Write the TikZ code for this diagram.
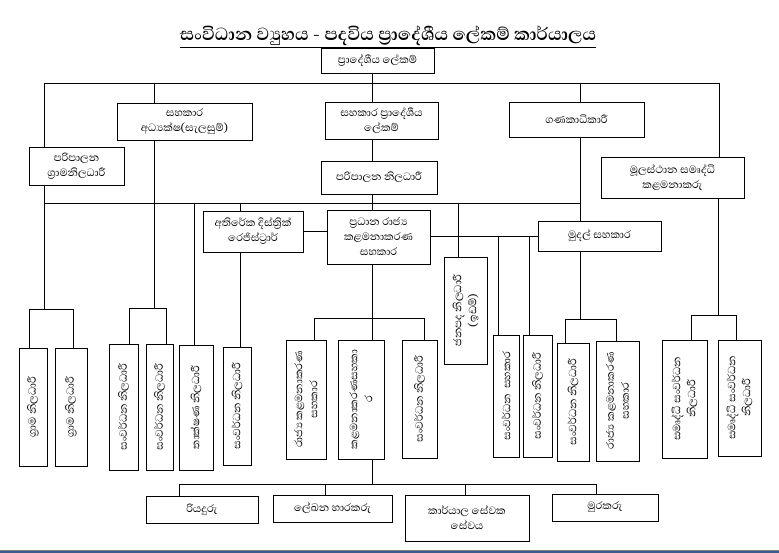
\documentclass[tikz,border=0pt]{standalone}
\usepackage{fontspec}
\setmainfont[Script=Sinhala]{Abhaya Libre}
\definecolor{barblue}{RGB}{62,92,138}
\begin{document}
\begin{tikzpicture}[x=1pt,y=-1pt,
  bx/.style={draw,line width=0.8pt,inner sep=1pt,align=center,font=\fontsize{13.5}{15}\selectfont},
  vtext/.style={rotate=90,align=center,inner sep=0pt,font=\fontsize{13.5}{15}\selectfont},
  ln/.style={line width=0.8pt}]
\useasboundingbox (0,0) rectangle (779,553);
\fill[white] (0,0) rectangle (779,553);
% title
\node[font=\fontsize{22.5}{26}\selectfont\bfseries] (title) at (388,37) {\underline{සංවිධාන ව්‍යුහය - පදවිය ප්‍රාදේශීය ලේකම් කාර්යාලය}};
% horizontal boxes
\node[bx,minimum width=113pt,minimum height=25pt] (top) at (377.5,60.5) {ප්‍රාදේශීය ලේකම්};
\node[bx,minimum width=135pt,minimum height=37pt] (adh) at (184.5,121.5) {සහකාර\\අධ්‍යක්ෂ(සැලසුම්)};
\node[bx,minimum width=113pt,minimum height=37pt] (spl) at (381.5,120.5) {සහකාර ප්‍රාදේශීය\\ලේකම්};
\node[bx,minimum width=135pt,minimum height=35pt] (gan) at (576.5,119.5) {ගණකාධිකාරී};
\node[bx,minimum width=95pt,minimum height=38pt] (pgn) at (76.5,166) {පරිපාලන\\ග්‍රාමනිලධාරී};
\node[bx,minimum width=116pt,minimum height=33pt] (pn) at (379,177.5) {පරිපාලන නිලධාරී};
\node[bx,minimum width=143pt,minimum height=41pt] (msk) at (672.5,177.5) {මූලස්ථාන සමෘද්ධි\\කළමනාකරු};
\node[bx,minimum width=100pt,minimum height=41pt] (atr) at (253,231.5) {අතිරේක දිස්ත්‍රික්\\රෙජිස්ට්‍රාර්};
\node[bx,minimum width=103pt,minimum height=54pt] (prs) at (378.5,237) {ප්‍රධාන රාජ්‍ය\\කළමනාකරණ\\සහකාර};
\node[bx,minimum width=123pt,minimum height=30pt] (mud) at (599.5,236) {මුදල් සහකාර};
% vertical boxes
\node[bx,minimum width=43pt,minimum height=107pt,label={[vtext]center:ජනපද නිලධාරී\\(ඉඩම්)}] (jan) at (465.5,310.5) {};
\node[bx,minimum width=28pt,minimum height=118pt,label={[vtext]center:ග්‍රාම නිලධාරී}] (gn1) at (33,407) {};
\node[bx,minimum width=32pt,minimum height=118pt,label={[vtext]center:ග්‍රාම නිලධාරී}] (gn2) at (71,407) {};
\node[bx,minimum width=29pt,minimum height=126pt,label={[vtext]center:සංවර්ධන නිලධාරී}] (sv1) at (123.5,407) {};
\node[bx,minimum width=27pt,minimum height=126pt,label={[vtext]center:සංවර්ධන නිලධාරී}] (sv2) at (159.5,407) {};
\node[bx,minimum width=34pt,minimum height=125pt,label={[vtext]center:තාක්ෂණ නිලධාරී}] (tk) at (196,407.5) {};
\node[bx,minimum width=28pt,minimum height=118pt,label={[vtext]center:සංවර්ධන නිලධාරී}] (sv3) at (237,406) {};
\node[bx,minimum width=40pt,minimum height=119pt,label={[vtext]center:රාජ්‍ය කළමනාකරණ\\සහකාර}] (rk1) at (306,399.5) {};
\node[bx,minimum width=46pt,minimum height=119pt,label={[vtext]center:කළමනාකරණසහකා\\ර}] (ks) at (361,399.5) {};
\node[bx,minimum width=35pt,minimum height=118pt,label={[vtext]center:සංවර්ධන නිලධාරී}] (sv4) at (419.5,399) {};
\node[bx,minimum width=26pt,minimum height=122pt,label={[vtext]center:සංවර්ධන\ \ සහකාර}] (ss) at (506,396) {};
\node[bx,minimum width=29pt,minimum height=122pt,label={[vtext]center:සංවර්ධන නිලධාරී}] (sv5) at (537.5,396) {};
\node[bx,minimum width=32pt,minimum height=118pt,label={[vtext]center:සංවර්ධන නිලධාරී}] (sv6) at (573,402) {};
\node[bx,minimum width=43pt,minimum height=120pt,label={[vtext]center:රාජ්‍ය කළමනාකරණ\\සහකාර}] (rk2) at (617.5,401) {};
\node[bx,minimum width=45pt,minimum height=118pt,label={[vtext]center:සමෘද්ධි සංවර්ධන\\නිලධාරී}] (sm1) at (684.5,399) {};
\node[bx,minimum width=43pt,minimum height=116pt,label={[vtext]center:සමෘද්ධි සංවර්ධන\\නිලධාරී}] (sm2) at (739.5,398) {};
% bottom boxes
\node[bx,minimum width=112pt,minimum height=27pt] (riy) at (202,509.5) {රියදුරු};
\node[bx,minimum width=119pt,minimum height=27pt] (lek) at (332.5,508.5) {ලේඛන හාරකරු};
\node[bx,minimum width=124pt,minimum height=46pt] (kar) at (467,518) {කාර්යාල සේවක\\සේවය};
\node[bx,minimum width=106pt,minimum height=27pt] (mur) at (605,507.5) {මුරකරු};
% bus 1
\coordinate (A1) at (44,83); \coordinate (A2) at (154,83); \coordinate (A3) at (372,83);
\coordinate (A4) at (580,83); \coordinate (A5) at (719,83);
\draw[ln] (A1) -- (A5);
\draw[ln] (top.south -| A3) -- (A3);
\draw[ln] (A1) -- (pgn.north -| A1);
\draw[ln] (A2) -- (adh.north -| A2);
\draw[ln] (A3) -- (spl.north -| A3);
\draw[ln] (A4) -- (gan.north -| A4);
\draw[ln] (A5) -- (msk.north -| A5);
\draw[ln] (spl.south -| A3) -- (pn.north -| A3);
% bus 2
\coordinate (B1) at (44,203); \coordinate (B2) at (581,203);
\coordinate (B3) at (194,203); \coordinate (B4) at (240,203); \coordinate (B5) at (458,203);
\draw[ln] (B1) -- (B2);
\draw[ln] (pn.south -| A3) -- (prs.north -| A3);
\draw[ln] (B3) -- (tk.north -| B3);
\draw[ln] (B4) -- (atr.north -| B4);
\draw[ln] (atr.south -| B4) -- (sv3.north -| B4);
\draw[ln] (B5) -- (jan.north -| B5);
\draw[ln] (gan.south -| A4) -- (mud.north -| A4);
\draw[ln] (atr.east) -- (atr.east -| prs.west);
\draw[ln] (prs.east |- mud.west) -- (mud.west);
\coordinate (C1) at (498,236); \coordinate (C2) at (529,236);
\draw[ln] (C1) -- (ss.north -| C1);
\draw[ln] (C2) -- (sv5.north -| C2);
% group 1
\coordinate (G1) at (44,309); \coordinate (G1a) at (29,309); \coordinate (G1b) at (73,309);
\draw[ln] (pgn.south -| A1) -- (G1);
\draw[ln] (gn1.north -| G1a) -- (G1a) -- (G1b) -- (gn2.north -| G1b);
% group 2
\coordinate (G2) at (154,308); \coordinate (G2a) at (129,308); \coordinate (G2b) at (166,308);
\draw[ln] (adh.south -| A2) -- (G2);
\draw[ln] (sv1.north -| G2a) -- (G2a) -- (G2b) -- (sv2.north -| G2b);
% group 3
\coordinate (G3) at (372,318); \coordinate (G3a) at (314,318); \coordinate (G3b) at (424,318);
\draw[ln] (prs.south -| G3) -- (G3);
\draw[ln] (rk1.north -| G3a) -- (G3a) -- (G3b) -- (sv4.north -| G3b);
\draw[ln] (G3) -- (ks.north -| G3);
% group 4
\coordinate (G4) at (580,319); \coordinate (G4a) at (565,319); \coordinate (G4b) at (616,319);
\draw[ln] (mud.south -| G4) -- (G4);
\draw[ln] (sv6.north -| G4a) -- (G4a) -- (G4b) -- (rk2.north -| G4b);
% group 5
\coordinate (G5) at (718,315); \coordinate (G5a) at (691,315); \coordinate (G5b) at (736,315);
\draw[ln] (msk.south -| G5) -- (G5);
\draw[ln] (sm1.north -| G5a) -- (G5a) -- (G5b) -- (sm2.north -| G5b);
% group 6
\coordinate (G6) at (372,484); \coordinate (G6a) at (179,484); \coordinate (G6b) at (325,484);
\coordinate (G6c) at (465,484); \coordinate (G6d) at (596,484);
\draw[ln] (ks.south -| G6) -- (G6);
\draw[ln] (riy.north -| G6a) -- (G6a) -- (G6d) -- (mur.north -| G6d);
\draw[ln] (G6b) -- (lek.north -| G6b);
\draw[ln] (G6c) -- (kar.north -| G6c);
% bottom bar
\fill[barblue] (0,550) rectangle (779,553);
\draw[gray,line width=0.6pt] (0,550.3) -- (779,550.3);
\end{tikzpicture}
\end{document}
